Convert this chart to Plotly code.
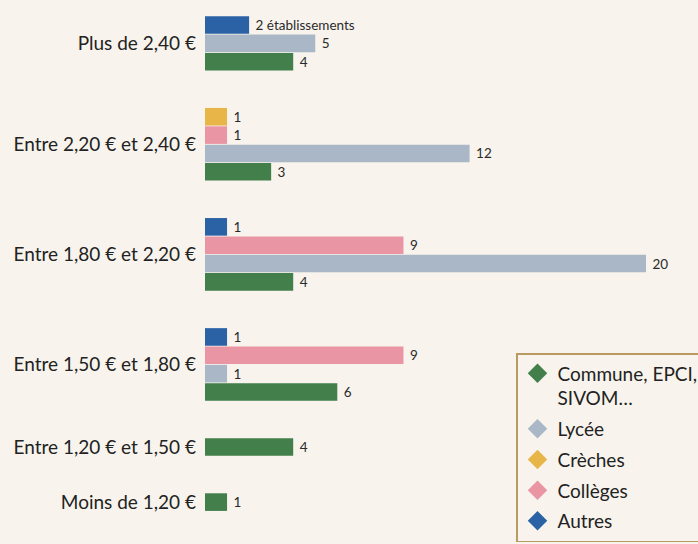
import plotly.graph_objects as go

# ---- data ----
categories = [
    "Plus de 2,40 €",
    "Entre 2,20 € et 2,40 €",
    "Entre 1,80 € et 2,20 €",
    "Entre 1,50 € et 1,80 €",
    "Entre 1,20 € et 1,50 €",
    "Moins de 1,20 €",
]
autres = [2, 0, 1, 1, 0, 0]
creches = [0, 1, 0, 0, 0, 0]
colleges = [0, 1, 9, 9, 0, 0]
lycee = [5, 12, 20, 1, 0, 0]
commune = [4, 3, 4, 6, 4, 1]

unit_label = "établissements"

# series in bar order (top to bottom inside a group)
series = [
    ("Autres", autres, "#2b62a6"),
    ("Crèches", creches, "#e7b548"),
    ("Collèges", colleges, "#e995a4"),
    ("Lycée", lycee, "#a9b7c6"),
    ("Commune, EPCI,<br>SIVOM…", commune, "#427f4a"),
]
legend_order = [4, 3, 1, 2, 0]

# ---- slot layout computed from data ----
GAP = 2.0
slots = {name: ([], [], []) for name, _, _ in series}
group_centers = []
pos = 0.0
first_label_done = False
for ci, cat in enumerate(categories):
    used = []
    for name, vals, _ in series:
        v = vals[ci]
        if v > 0:
            ys, xs, ts = slots[name]
            ys.append(pos)
            xs.append(v)
            if not first_label_done:
                ts.append(f"{v} {unit_label}")
                first_label_done = True
            else:
                ts.append(str(v))
            used.append(pos)
            pos += 1
    group_centers.append(sum(used) / len(used))
    pos += GAP

FONT = "Lato"
BG = "#f8f4ed"

fig = go.Figure()
for name, vals, color in series:
    ys, xs, ts = slots[name]
    fig.add_trace(go.Bar(
        y=ys, x=xs, orientation="h", width=0.96,
        marker=dict(color=color, line=dict(width=0)),
        text=ts, texttemplate="\u00a0%{text}",
        textposition="outside", cliponaxis=False,
        textfont=dict(size=13.5, color="#2a2a2a", family=FONT),
        showlegend=False, hoverinfo="skip",
    ))

# legend entries with diamond symbols
for i in legend_order:
    name, _, color = series[i]
    fig.add_trace(go.Scatter(
        x=[None], y=[None], mode="markers", name=name,
        marker=dict(symbol="diamond", size=15, color=color),
        legendgroup=name, showlegend=True,
    ))

PX = 18.35         # px per slot
TOP = 5
BOTTOM = 10
H = 544
plot_h = H - TOP - BOTTOM
top_slot = -(25 - TOP) / PX
bottom_slot = top_slot + plot_h / PX

LEFT = 205
W = 698
plot_w = W - LEFT
xmax = plot_w / 22.05

fig.update_layout(
    width=W, height=H,
    margin=dict(l=LEFT, r=0, t=TOP, b=BOTTOM, autoexpand=False),
    paper_bgcolor=BG, plot_bgcolor=BG,
    barmode="overlay",
    font=dict(family=FONT, color="#222222"),
    xaxis=dict(range=[0, xmax], showgrid=False, zeroline=False,
               showticklabels=False, showline=False, fixedrange=True),
    yaxis=dict(range=[bottom_slot, top_slot], tickvals=group_centers,
               ticktext=categories, showgrid=False, zeroline=False,
               showline=False, ticks="", ticklabelstandoff=8,
               tickfont=dict(size=19, color="#222222", family=FONT)),
    legend=dict(
        x=(516 - LEFT) / plot_w, y=(H - BOTTOM - 353) / plot_h,
        xanchor="left", yanchor="top", valign="top",
        bgcolor=BG, bordercolor="#b99b62", borderwidth=1.5,
        font=dict(size=19, color="#222222", family=FONT),
        traceorder="grouped", tracegroupgap=3,
        itemwidth=30,
    ),
)

fig.write_html(
    "out.html",
    config={"displayModeBar": False},
    post_script="document.body.style.margin='0';document.body.style.overflow='hidden';",
)
